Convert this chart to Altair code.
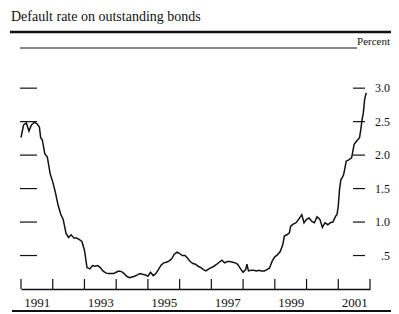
import altair as alt
import pandas as pd

# ---- data (decimal year, percent) ----
years = [
    1991.00, 1991.08, 1991.17, 1991.25, 1991.33, 1991.42, 1991.50, 1991.58, 1991.62, 1991.67,
    1991.75, 1991.83, 1991.92, 1992.00, 1992.08, 1992.17, 1992.25, 1992.33, 1992.42, 1992.50,
    1992.58, 1992.67, 1992.75, 1992.83, 1992.92, 1993.00, 1993.04, 1993.08, 1993.17, 1993.25,
    1993.33, 1993.42, 1993.50, 1993.58, 1993.67, 1993.75, 1993.83, 1993.92, 1994.00, 1994.08,
    1994.17, 1994.25, 1994.33, 1994.42, 1994.50, 1994.58, 1994.67, 1994.75, 1994.83, 1994.92,
    1995.00, 1995.08, 1995.17, 1995.25, 1995.33, 1995.42, 1995.50, 1995.58, 1995.67, 1995.75,
    1995.83, 1995.92, 1996.00, 1996.08, 1996.17, 1996.25, 1996.33, 1996.42, 1996.50, 1996.58,
    1996.67, 1996.75, 1996.83, 1996.92, 1997.00, 1997.08, 1997.17, 1997.25, 1997.33, 1997.42,
    1997.50, 1997.58, 1997.67, 1997.75, 1997.83, 1997.92, 1998.00, 1998.08, 1998.12, 1998.17,
    1998.25, 1998.33, 1998.42, 1998.50, 1998.58, 1998.67, 1998.75, 1998.83, 1998.92, 1999.00,
    1999.08, 1999.17, 1999.25, 1999.30, 1999.38, 1999.46, 1999.50, 1999.58, 1999.67, 1999.75,
    1999.85, 1999.92, 2000.00, 2000.08, 2000.17, 2000.25, 2000.33, 2000.42, 2000.50, 2000.58,
    2000.67, 2000.75, 2000.83, 2000.92, 2000.96, 2001.00, 2001.04, 2001.08, 2001.12, 2001.17,
    2001.25, 2001.33, 2001.42, 2001.46, 2001.50, 2001.58, 2001.67, 2001.71, 2001.75, 2001.79,
    2001.83, 2001.88,
]
rates = [
    2.26, 2.45, 2.48, 2.36, 2.45, 2.49, 2.47, 2.42, 2.26, 2.23,
    2.02, 1.97, 1.72, 1.60, 1.45, 1.25, 1.12, 1.04, 0.83, 0.77,
    0.81, 0.76, 0.76, 0.74, 0.71, 0.58, 0.45, 0.32, 0.30, 0.35,
    0.34, 0.35, 0.32, 0.27, 0.24, 0.23, 0.23, 0.23, 0.25, 0.27,
    0.26, 0.23, 0.19, 0.17, 0.18, 0.19, 0.21, 0.23, 0.22, 0.21,
    0.19, 0.25, 0.20, 0.23, 0.29, 0.36, 0.39, 0.40, 0.42, 0.45,
    0.52, 0.55, 0.53, 0.50, 0.50, 0.46, 0.41, 0.38, 0.37, 0.34,
    0.32, 0.29, 0.27, 0.30, 0.32, 0.34, 0.37, 0.40, 0.43, 0.39,
    0.41, 0.41, 0.40, 0.39, 0.37, 0.30, 0.25, 0.29, 0.37, 0.27,
    0.28, 0.28, 0.27, 0.28, 0.27, 0.27, 0.29, 0.31, 0.42, 0.48,
    0.51, 0.56, 0.66, 0.79, 0.81, 0.84, 0.94, 0.97, 0.99, 1.04,
    1.11, 0.99, 1.04, 1.06, 1.01, 0.99, 1.08, 1.04, 0.92, 0.99,
    0.96, 0.99, 1.00, 1.09, 1.11, 1.24, 1.49, 1.63, 1.66, 1.71,
    1.91, 1.93, 1.96, 2.06, 2.16, 2.21, 2.26, 2.38, 2.53, 2.63,
    2.83, 2.93,
]
tick_years = [1991, 1992, 1993, 1994, 1995, 1996, 1997, 1998, 1999, 2000, 2001, 2002]
label_years = [1991, 1993, 1995, 1997, 1999, 2001]
y_ticks = [0.5, 1.0, 1.5, 2.0, 2.5, 3.0]
y_labels = [".5", "1.0", "1.5", "2.0", "2.5", "3.0"]
title_text = "Default rate on outstanding bonds"
unit_text = "Percent"

W, H = 349, 241
SERIF = "Liberation Serif"
INK = "#111111"

series = pd.DataFrame({"year": years, "rate": rates})
ticks_x = pd.DataFrame({"year": tick_years})
ticks_y = pd.DataFrame({"v": y_ticks, "label": y_labels})
one = pd.DataFrame({"a": [0]})

xs = alt.Scale(domain=[1991, 2002], nice=False, zero=False)
ys = alt.Scale(domain=[0, 3.6], nice=False, zero=False)

line = alt.Chart(series).mark_line(color=INK, strokeWidth=1.5).encode(
    x=alt.X("year:Q", scale=xs,
            axis=alt.Axis(values=[y + 0.5 for y in label_years],
                          labelExpr="floor(datum.value)",
                          ticks=False, grid=False, domain=True,
                          domainColor=INK, domainWidth=1.3,
                          labelFont=SERIF, labelFontSize=13, labelColor=INK,
                          labelPadding=7, title=None)),
    y=alt.Y("rate:Q", scale=ys, axis=None),
)

xtick = alt.Chart(ticks_x).mark_rule(color=INK, strokeWidth=1.2).encode(
    x=alt.X("year:Q", scale=xs), y=alt.value(H), y2=alt.value(H - 10)
)

ytick_left = alt.Chart(ticks_y).mark_rule(color=INK, strokeWidth=1.2).encode(
    y=alt.Y("v:Q", scale=ys), x=alt.value(-1), x2=alt.value(16)
)
ytick_right = alt.Chart(ticks_y).mark_rule(color=INK, strokeWidth=1.2).encode(
    y=alt.Y("v:Q", scale=ys), x=alt.value(332), x2=alt.value(344)
)
ylab = alt.Chart(ticks_y).mark_text(
    align="right", baseline="middle", font=SERIF, fontSize=12, color=INK
).encode(y=alt.Y("v:Q", scale=ys), x=alt.value(369), text="label:N")

top_thin = alt.Chart(one).mark_rule(color=INK, strokeWidth=1).encode(
    x=alt.value(-1), x2=alt.value(336), y=alt.value(0)
)
top_thick = alt.Chart(one).mark_rule(color=INK, strokeWidth=2.5).encode(
    x=alt.value(-11), x2=alt.value(372), y=alt.value(-16)
)
bottom_thick = alt.Chart(one).mark_rule(color=INK, strokeWidth=2.2).encode(
    x=alt.value(-9), x2=alt.value(372), y=alt.value(263)
)
unit = alt.Chart(one).mark_text(
    align="right", baseline="alphabetic", font=SERIF, fontSize=11, color=INK
).encode(x=alt.value(369), y=alt.value(-3), text=alt.value(unit_text))
title = alt.Chart(one).mark_text(
    align="left", baseline="alphabetic", font=SERIF, fontSize=14, color=INK
).encode(x=alt.value(-10), y=alt.value(-27.5), text=alt.value(title_text))

chart = alt.layer(
    line, xtick, ytick_left, ytick_right, ylab,
    top_thin, top_thick, bottom_thick, unit, title
).properties(
    width=W, height=H,
    autosize=alt.AutoSizeParams(type="none"),
    padding={"left": 13, "top": 40, "right": 21, "bottom": 25},
    background="white",
).configure_view(stroke=None)

chart.save("out.html", embed_options={"renderer": "svg", "actions": False})
